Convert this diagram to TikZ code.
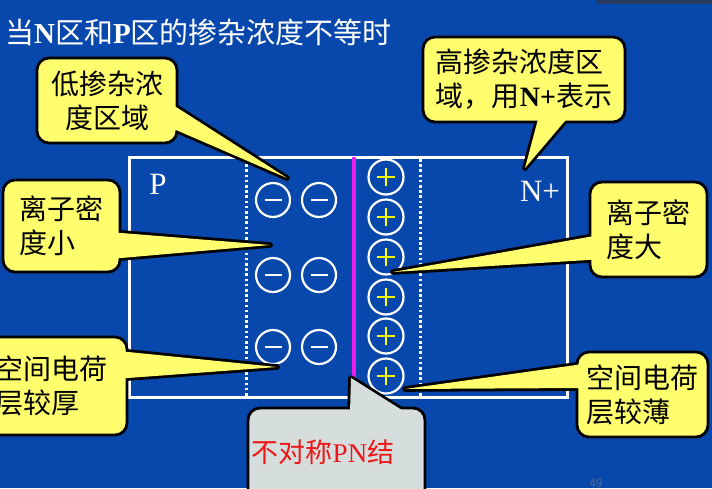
\documentclass[tikz,border=0pt]{standalone}
\usepackage{fontspec}
\setmainfont{Liberation Serif}
\newfontfamily\cjk{Noto Sans CJK SC}
\usetikzlibrary{calc}
\pgfdeclarelayer{bg}
\pgfdeclarelayer{ptr}
\pgfsetlayers{bg,ptr,main}
\definecolor{bgblue}{RGB}{8,72,172}
\definecolor{stripc}{RGB}{40,58,96}
\definecolor{calloutyellow}{RGB}{255,255,110}
\definecolor{calloutgrey}{RGB}{214,221,221}
\definecolor{junction}{RGB}{235,30,235}
\definecolor{plusyellow}{RGB}{255,255,0}
\definecolor{pnred}{RGB}{240,20,20}
\definecolor{pagegrey}{RGB}{95,105,135}
\begin{document}
\begin{tikzpicture}[x=1pt,y=-1pt,
  ybox/.style={draw=black, line width=2.8, fill=calloutyellow, rounded corners=12,
    font=\fontsize{28}{34}\selectfont\cjk, text=black, inner sep=0pt},
  gbox/.style={draw=black, line width=2.8, fill=calloutgrey, rounded corners=12, inner sep=0pt},
  ptrline/.style={draw=black, line width=5.6, line join=round},
  ionminus/.style={circle, draw=white, line width=2.2, minimum size=34, inner sep=0pt,
    path picture={\draw[white, line width=2.8] ($(path picture bounding box.center)+(-8.5,0)$) -- ++(17,0);}},
  ionplus/.style={circle, draw=white, line width=2.2, minimum size=35, inner sep=0pt,
    path picture={\draw[plusyellow, line width=2.8] ($(path picture bounding box.center)+(-9,0)$) -- ++(18,0)
      ($(path picture bounding box.center)+(0,-9)$) -- ++(0,18);}},
  dotline/.style={white, line width=3, dash pattern=on 2.6 off 2.6},
  regionlbl/.style={text=white, font=\fontsize{31}{31}\selectfont, inner sep=0pt}
]
\useasboundingbox (0,0) rectangle (712,488);
\begin{pgfonlayer}{bg}
  \fill[bgblue] (0,0) rectangle (712,488);
  \fill[stripc] (597,0) rectangle (712,4);
  % title
  \node[anchor=west, text=white, inner sep=0pt, font=\fontsize{29}{29}\selectfont] (title) at (5,32)
    {{\cjk 当}\textbf{N}{\cjk 区和}\textbf{P}{\cjk 区的掺杂浓度不等时}};
  % PN junction
  \draw[white, line width=3] (129,157) rectangle (567,397);
  \draw[dotline] (246,159) -- (246,397);
  \draw[dotline] (420,159) -- (420,397);
  \draw[junction, line width=3.2] (354,157) -- (354,382);
  \node[regionlbl] (plabel) at (158,184) {P};
  \node[regionlbl] (nlabel) at (540,191) {N+};
  \foreach \yy [count=\i] in {200,275,347} {
    \node[ionminus] (ma\i) at (273,\yy) {};
    \node[ionminus] (mb\i) at (319,\yy) {};
  }
  \foreach \yy [count=\i] in {177,217,257,297,336,376} {
    \node[ionplus] (pp\i) at (386,\yy) {};
  }
  \node[text=pagegrey, font=\fontsize{13}{13}\selectfont\sffamily, inner sep=0pt] (page) at (596,483) {49};
\end{pgfonlayer}

% callout 1
\node[ybox, minimum width=140, minimum height=85, align=center] (c1) at (107,100.5) {低掺杂浓\\度区域};
\coordinate (t1) at (287,178);
\begin{pgfonlayer}{ptr}
  \path[ptrline] ($(c1.east)+(-7,3.5)$) -- (t1) -- ($(c1.east)+(-7,27.5)$);
\end{pgfonlayer}
\fill[calloutyellow] ($(c1.east)+(-7,3.5)$) -- (t1) -- ($(c1.east)+(-7,27.5)$) -- cycle;

% callout 2
\node[ybox, minimum width=202, minimum height=85, align=left] (c2) at (524,79.5) {高掺杂浓度区\\域，用{\rmfamily\bfseries N+}表示};
\coordinate (t2) at (525,168);
\begin{pgfonlayer}{ptr}
  \path[ptrline] ($(c2.south)+(14.5,-6)$) -- (t2) -- ($(c2.south)+(44,-6)$);
\end{pgfonlayer}
\fill[calloutyellow] ($(c2.south)+(14.5,-6)$) -- (t2) -- ($(c2.south)+(44,-6)$) -- cycle;

% callout 3
\node[ybox, minimum width=117, minimum height=92, align=left] (c3) at (61.5,226) {离子密\\度小\phantom{密}};
\coordinate (t3) at (270,245);
\begin{pgfonlayer}{ptr}
  \path[ptrline] ($(c3.east)+(-6,6.5)$) -- (t3) -- ($(c3.east)+(-6,32.5)$);
\end{pgfonlayer}
\fill[calloutyellow] ($(c3.east)+(-6,6.5)$) -- (t3) -- ($(c3.east)+(-6,32.5)$) -- cycle;

% callout 4
\node[ybox, minimum width=152, minimum height=98, align=left] (c4) at (51,386) {空间电荷\\层较厚\phantom{荷}};
\coordinate (t4) at (277,367);
\begin{pgfonlayer}{ptr}
  \path[ptrline] ($(c4.east)+(-6,-34.6)$) -- (t4) -- ($(c4.east)+(-6,-7.6)$);
\end{pgfonlayer}
\fill[calloutyellow] ($(c4.east)+(-6,-34.6)$) -- (t4) -- ($(c4.east)+(-6,-7.6)$) -- cycle;

% callout 5
\node[ybox, minimum width=117, minimum height=95, align=left] (c5) at (648.5,229.5) {离子密\\度大\phantom{密}};
\coordinate (t5) at (393,272);
\begin{pgfonlayer}{ptr}
  \path[ptrline] ($(c5.west)+(6,6.4)$) -- (t5) -- ($(c5.west)+(6,30.1)$);
\end{pgfonlayer}
\fill[calloutyellow] ($(c5.west)+(6,6.4)$) -- (t5) -- ($(c5.west)+(6,30.1)$) -- cycle;

% callout 6
\node[ybox, minimum width=131, minimum height=85, align=left] (c6) at (642.5,394.5) {空间电荷\\层较薄\phantom{荷}};
\coordinate (t6) at (405,389);
\begin{pgfonlayer}{ptr}
  \path[ptrline] ($(c6.west)+(6,-30.3)$) -- (t6) -- ($(c6.west)+(6,-6.5)$);
\end{pgfonlayer}
\fill[calloutyellow] ($(c6.west)+(6,-30.3)$) -- (t6) -- ($(c6.west)+(6,-6.5)$) -- cycle;

% grey callout
\node[gbox, minimum width=177, minimum height=97] (g) at (336.5,456.5) {};
\coordinate (tg) at (351,378);
\begin{pgfonlayer}{ptr}
  \path[ptrline] ($(g.north)+(13.5,6)$) -- (tg) -- ($(g.north)+(69.5,6)$);
\end{pgfonlayer}
\fill[calloutgrey] ($(g.north)+(13.5,6)$) -- (tg) -- ($(g.north)+(69.5,6)$) -- cycle;
\node[text=pnred, inner sep=0pt, font=\fontsize{27}{27}\selectfont] (gt) at (323,452) {{\cjk 不对称}PN{\cjk 结}};
\end{tikzpicture}
\end{document}
